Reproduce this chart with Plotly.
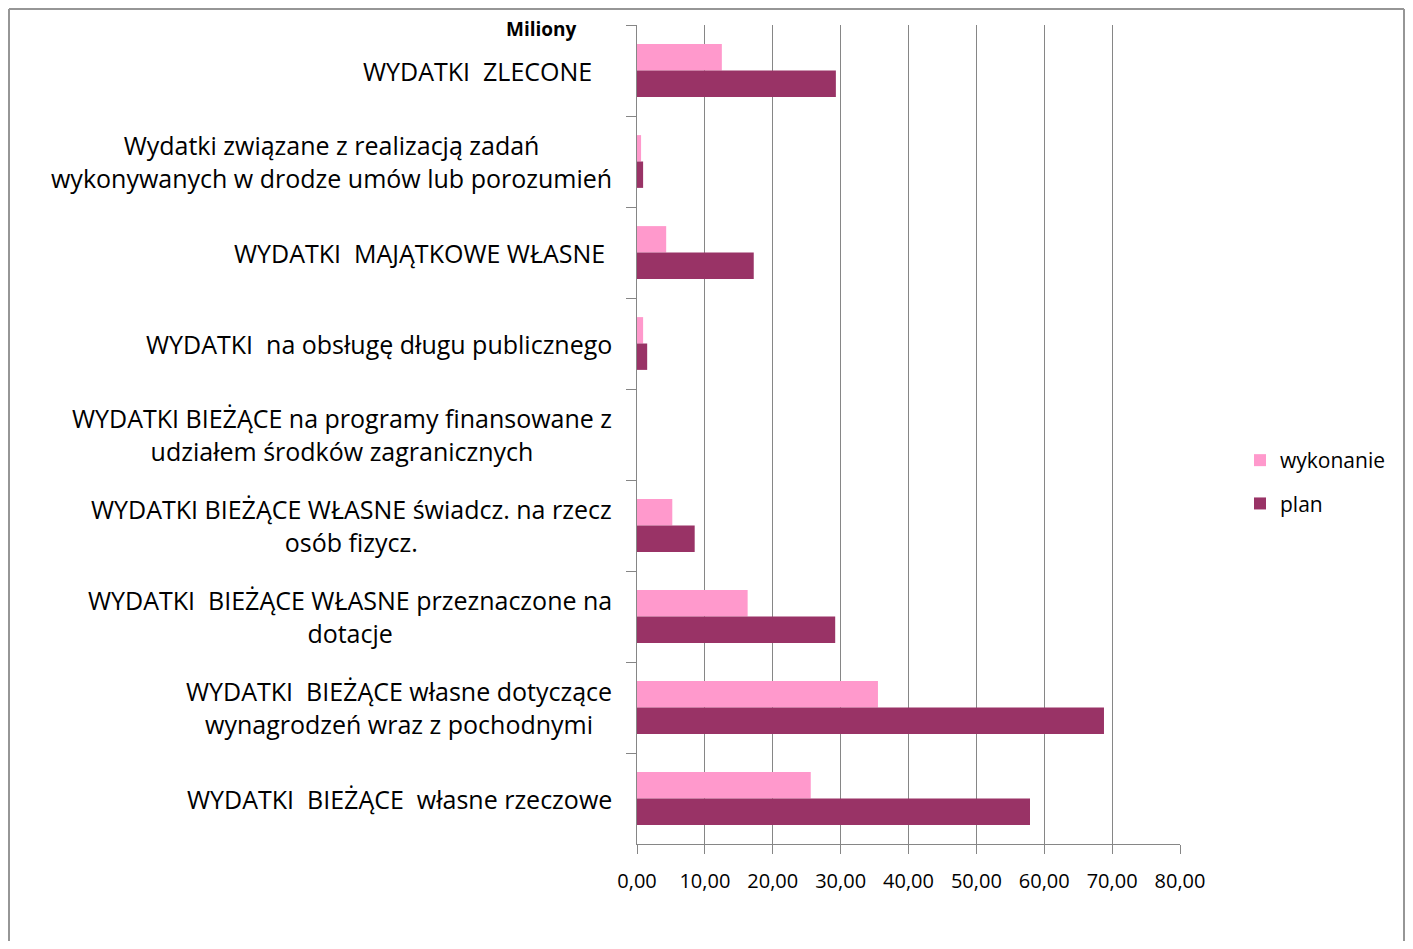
import plotly.graph_objects as go

categories = [
    "WYDATKI  ZLECONE",
    "Wydatki związane z realizacją zadań<br>wykonywanych w drodze umów lub porozumień",
    "WYDATKI  MAJĄTKOWE WŁASNE",
    "WYDATKI  na obsługę długu publicznego",
    "WYDATKI BIEŻĄCE na programy finansowane z<br>udziałem środków zagranicznych",
    "WYDATKI BIEŻĄCE WŁASNE świadcz. na rzecz<br>osób fizycz.",
    "WYDATKI  BIEŻĄCE WŁASNE przeznaczone na<br>dotacje",
    "WYDATKI  BIEŻĄCE własne dotyczące<br>wynagrodzeń wraz z pochodnymi",
    "WYDATKI  BIEŻĄCE  własne rzeczowe",
]
label_pad = ["\u00a0\u00a0\u00a0", "", "\u00a0", "", "", "", "", "", ""]

wykonanie = [12.5, 0.6, 4.3, 0.9, 0.0, 5.2, 16.3, 35.5, 25.6]
plan = [29.3, 0.9, 17.2, 1.5, 0.0, 8.5, 29.2, 68.8, 57.9]

x_ticks = [0, 10, 20, 30, 40, 50, 60, 70, 80]

# page offset (default body margin of the html page)
OFF = 8
W, H = 1413 - 2 * OFF, 949 - 2 * OFF
L, R, T, B = 637 - OFF, 1180 - OFF, 25 - OFF, 844 - OFF
pw, ph = R - L, B - T


def px_x(x):
    return (x - OFF - L) / pw


def px_y(y):
    return 1 - (y - OFF - T) / ph


font_family = "Open Sans, Lato, sans-serif"

fig = go.Figure()
fig.add_trace(go.Bar(
    y=categories, x=wykonanie, orientation="h", name="wykonanie",
    marker=dict(color="#FF99CC", line=dict(width=0)), legendgroup="a",
))
fig.add_trace(go.Bar(
    y=categories, x=plan, orientation="h", name="plan",
    marker=dict(color="#993366", line=dict(width=0)), legendgroup="b",
))

annotations = []
for c, pad in zip(categories, label_pad):
    annotations.append(dict(
        xref="x", x=0, yref="y", y=c, text=c + pad, showarrow=False,
        xanchor="right", yanchor="middle", xshift=-23, align="center",
        font=dict(family=font_family, size=25, color="#000000"),
    ))
annotations.append(dict(
    xref="paper", yref="paper",
    x=px_x(579), y=px_y(29),
    xanchor="right", yanchor="middle", text="<b>Miliony</b>", showarrow=False,
    font=dict(family=font_family, size=19, color="#000000"),
))

border = dict(color="#969696", width=2)
bx0, bx1 = px_x(OFF + 1), px_x(OFF + W - 1)
by0, by1 = px_y(OFF + H + 5), px_y(OFF + 1)
shapes = [
    dict(type="line", xref="paper", yref="paper", x0=bx0, x1=bx0, y0=by0, y1=by1, line=border),
    dict(type="line", xref="paper", yref="paper", x0=bx0, x1=bx1, y0=by1, y1=by1, line=border),
    dict(type="line", xref="paper", yref="paper", x0=bx1, x1=bx1, y0=by0, y1=by1, line=border),
]

fig.update_layout(
    width=W, height=H,
    margin=dict(l=L, r=W - R, t=T, b=H - B),
    paper_bgcolor="white", plot_bgcolor="white",
    barmode="group", bargap=0.42, bargroupgap=0,
    separators=", ",
    showlegend=True,
    legend=dict(
        x=px_x(1240), y=px_y(440), xanchor="left", yanchor="top",
        font=dict(family=font_family, size=21, color="#000000"),
        traceorder="grouped", tracegroupgap=13,
        itemwidth=30, bgcolor="rgba(0,0,0,0)",
    ),
    annotations=annotations,
    shapes=shapes,
    xaxis=dict(
        range=[0, 80], tickvals=x_ticks, tickformat=".2f",
        showgrid=True, gridcolor="#868686", gridwidth=1,
        showline=True, linecolor="#868686", linewidth=1,
        ticks="outside", ticklen=9, tickcolor="#868686",
        ticklabelstandoff=10,
        tickfont=dict(family=font_family, size=20, color="#000000"),
        zeroline=False, fixedrange=True,
    ),
    yaxis=dict(
        type="category", autorange="reversed",
        showticklabels=False, ticks="outside", ticklen=10, tickcolor="#868686",
        tickson="boundaries",
        showline=True, linecolor="#868686", linewidth=1,
        showgrid=False, zeroline=False, fixedrange=True,
    ),
)

fig.write_html("out.html")
